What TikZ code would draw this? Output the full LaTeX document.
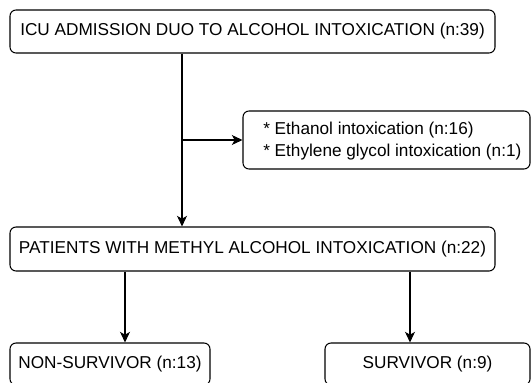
\documentclass[tikz,border=0pt]{standalone}
\usepackage{fontspec}
\setmainfont{Liberation Sans}
\usetikzlibrary{arrows.meta}
\begin{document}
\begin{tikzpicture}[x=0.75pt,y=-0.75pt,
  box/.style={draw, rounded corners=4.5pt, line width=0.8pt, inner sep=0pt, font=\fontsize{12.9}{15}\selectfont},
  arr/.style={line width=0.8pt, -{Stealth[length=8pt,width=7.5pt,inset=2.2pt]}}]
\useasboundingbox (0,0) rectangle (531,382);
\clip (0,0) rectangle (531,382);
\fill[white] (0,0) rectangle (531,382);
\node[box, minimum width=485*0.75pt, minimum height=43*0.75pt] (a) at (252.5,31.5) {ICU ADMISSION DUO TO ALCOHOL INTOXICATION (n:39)};
\node[box, minimum width=287*0.75pt, minimum height=58*0.75pt] (b) at (386.5,140) {};
\node[anchor=west, inner sep=0pt, align=left, font=\fontsize{12.9}{16.5}\selectfont] (bt) at (263,141) {* Ethanol intoxication (n:16)\\* Ethylene glycol intoxication (n:1)};
\node[box, minimum width=485*0.75pt, minimum height=44*0.75pt] (c) at (252.5,249) {PATIENTS WITH METHYL ALCOHOL INTOXICATION (n:22)};
\node[box, minimum width=200*0.75pt, minimum height=42*0.75pt] (d) at (110,364) {NON-SURVIVOR (n:13)};
\node[box, minimum width=205*0.75pt, minimum height=42*0.75pt] (e) at (427.5,364) {SURVIVOR (n:9)};
\coordinate (j) at (182,140);
\draw[arr] (a.south -| j) -- (c.north -| j);
\draw[arr] (j) -- (b.west);
\draw[arr] ([xshift=15*0.75pt]c.south -| d.north) -- ([xshift=15*0.75pt]d.north);
\draw[arr] ([xshift=-17.5*0.75pt]c.south -| e.north) -- ([xshift=-17.5*0.75pt]e.north);
\end{tikzpicture}
\end{document}
